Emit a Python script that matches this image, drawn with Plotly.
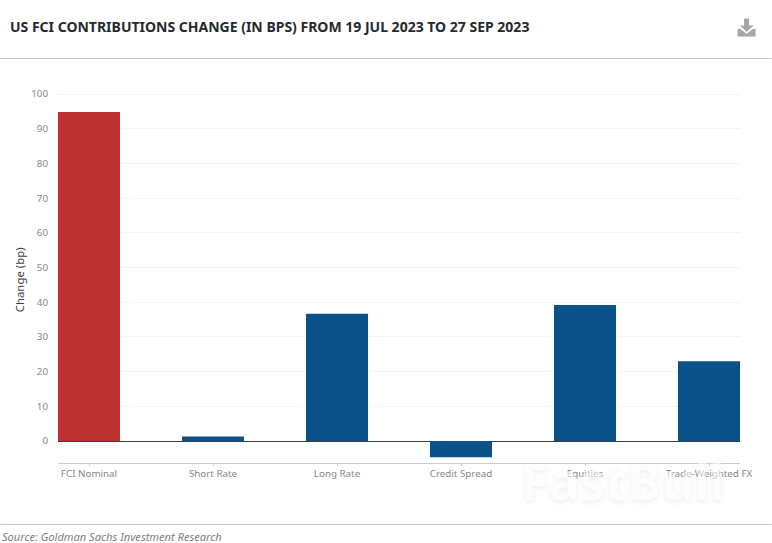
import plotly.graph_objects as go

categories = ["FCI Nominal", "Short Rate", "Long Rate", "Credit Spread", "Equities", "Trade-Weighted FX"]
values = [94.8, 1.3, 36.7, -4.7, 39.2, 23.0]
bar_colors = ["#BC3232", "#0A5089", "#0A5089", "#0A5089", "#0A5089", "#0A5089"]
y_ticks = list(range(0, 101, 10))

W, H = 772, 543
L, R, T, B = 58, 740.4, 92.5, 463
FONT = "Noto Sans"

def px(x):
    return (x - L) / (R - L)

def py(y):
    return (B - y) / (B - T)

def path(points):
    return "M " + " L ".join(f"{px(x)} {py(y)}" for x, y in points) + " Z"

fig = go.Figure(go.Bar(x=categories, y=values, marker=dict(color=bar_colors, line_width=0), width=0.5))

icon = path([(744.5, 18), (749.5, 18), (749.5, 25), (754, 25), (747, 31.5), (740.5, 25), (744.5, 25)])
icon_base = path([(738, 28.5), (741, 28.5), (747, 33.5), (753, 28.5), (756, 28.5), (756, 36), (738, 36)])

shapes = [
    dict(type="line", xref="paper", yref="paper", x0=px(0), x1=px(W), y0=py(58), y1=py(58),
         line=dict(color="#C4C4C4", width=1)),
    dict(type="line", xref="paper", yref="paper", x0=px(0), x1=px(W), y0=py(524.5), y1=py(524.5),
         line=dict(color="#C4C4C4", width=1)),
    dict(type="path", xref="paper", yref="paper", path=icon, fillcolor="#A6A6A6", line_width=0),
    dict(type="path", xref="paper", yref="paper", path=icon_base, fillcolor="#A6A6A6", line_width=0),
]

annotations = [
    dict(text="<b>US FCI CONTRIBUTIONS CHANGE (IN BPS) FROM 19 JUL 2023 TO 27 SEP 2023</b>",
         xref="paper", yref="paper", x=px(7.5), y=py(25.5), xanchor="left", yanchor="middle",
         showarrow=False, font=dict(family=FONT, size=14, color="#26292E")),
    dict(text="<i>Source: Goldman Sachs Investment Research</i>",
         xref="paper", yref="paper", x=px(0), y=py(536.5), xanchor="left", yanchor="middle",
         showarrow=False, font=dict(family=FONT, size=11.1, color="#7A7F85")),
    dict(text="Change (bp)",
         xref="paper", yref="paper", x=px(19.5), y=py(279.5), xanchor="center", yanchor="middle", textangle=-90,
         showarrow=False, font=dict(family=FONT, size=11.4, color="#3E4247")),
    dict(text="<b>FastBull</b>",
         xref="paper", yref="paper", x=px(623), y=py(480), xanchor="center", yanchor="middle",
         showarrow=False, opacity=0.6,
         font=dict(family=FONT, size=51, color="#FCFCFC", shadow="0px 2px 5px #E4E4E4")),
]

fig.update_layout(
    width=W, height=H,
    margin=dict(l=L, r=W - R, t=T, b=H - B, pad=0),
    paper_bgcolor="white", plot_bgcolor="white",
    showlegend=False,
    shapes=shapes, annotations=annotations,
    font=dict(family=FONT, color="#85888C", size=9.5),
    xaxis=dict(range=[-0.25, 5.25], type="category", showgrid=False, showline=True, linecolor="#C8CDD2",
               linewidth=1, ticks="outside", ticklen=2, tickcolor="#C8CDD2", tickangle=0,
               tickfont=dict(size=9.8, color="#85888C"), ticklabelstandoff=-1, anchor="y", automargin=False),
    yaxis=dict(range=[-6.33, 100.29], tickvals=y_ticks, showgrid=True, gridcolor="#F3F3F3", gridwidth=1,
               zeroline=True, zerolinecolor="#3A3F44", zerolinewidth=1, showline=False, ticks="",
               tickfont=dict(size=9.8, color="#85888C"), ticklabelstandoff=9, automargin=False),
)

fig.write_html("out.html", config=dict(displayModeBar=False),
               post_script="document.body.style.margin='0';")
